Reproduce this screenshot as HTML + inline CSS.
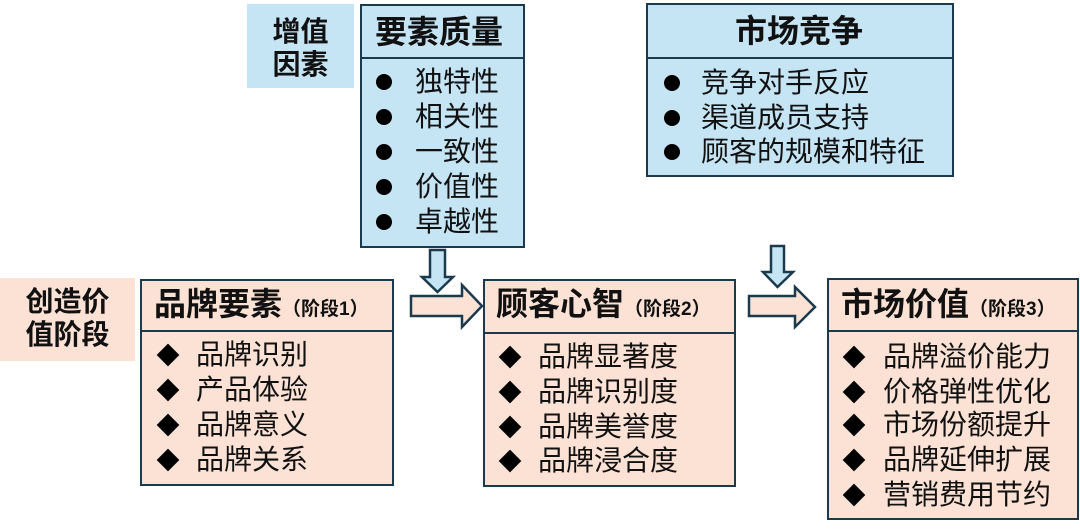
<!DOCTYPE html>
<html><head><meta charset="utf-8">
<style>
html,body{margin:0;padding:0;}
body{width:1080px;height:529px;position:relative;background:#fff;overflow:hidden;font-family:"Liberation Sans","Noto Sans CJK SC",sans-serif;color:#111;}
.abs{position:absolute;}
.box{position:absolute;box-sizing:border-box;border:2px solid #1c3a4e;}
.blue{background:#c5e4f4;}
.peach{background:#fbe2d5;}
.div{position:absolute;left:0;right:0;height:0;border-top:2px solid #1c3a4e;}
.t{position:absolute;white-space:nowrap;font-weight:bold;font-size:32px;line-height:40px;}
.t small{font-size:19px;font-weight:bold;}
.it{position:absolute;white-space:nowrap;font-size:28px;line-height:34px;}
.dot{position:absolute;width:16px;height:16px;border-radius:50%;background:#000;}
.dia{position:absolute;width:16px;height:16px;background:#000;transform:rotate(45deg);}
.lab{position:absolute;font-weight:bold;font-size:28px;line-height:33px;text-align:center;}
</style></head><body>

<!-- labels -->
<div class="abs blue" style="left:247px;top:4px;width:107px;height:84px;"></div>
<div class="lab" style="left:247px;top:15px;width:107px;">增值<br>因素</div>
<div class="abs peach" style="left:0;top:278px;width:135px;height:83px;"></div>
<div class="lab" style="left:0;top:285px;width:135px;">创造价<br>值阶段</div>

<!-- top box 1 -->
<div class="box blue" style="left:360px;top:4px;width:165px;height:244px;">
  <div class="div" style="top:51px;"></div>
</div>
<div class="t" style="left:375px;top:12px;">要素质量</div>
<div class="dot" style="left:376px;top:74px;"></div>
<div class="dot" style="left:376px;top:109px;"></div>
<div class="dot" style="left:376px;top:144px;"></div>
<div class="dot" style="left:376px;top:179px;"></div>
<div class="dot" style="left:376px;top:214px;"></div>
<div class="it" style="left:415px;top:65px;">独特性</div>
<div class="it" style="left:415px;top:100px;">相关性</div>
<div class="it" style="left:415px;top:135px;">一致性</div>
<div class="it" style="left:415px;top:170px;">价值性</div>
<div class="it" style="left:415px;top:205px;">卓越性</div>

<!-- top box 2 -->
<div class="box blue" style="left:646px;top:3px;width:308px;height:174px;">
  <div class="div" style="top:52px;"></div>
</div>
<div class="t" style="left:735px;top:11px;">市场竞争</div>
<div class="dot" style="left:664px;top:75px;"></div>
<div class="dot" style="left:664px;top:110px;"></div>
<div class="dot" style="left:664px;top:144px;"></div>
<div class="it" style="left:701px;top:66px;">竞争对手反应</div>
<div class="it" style="left:701px;top:101px;">渠道成员支持</div>
<div class="it" style="left:701px;top:135px;">顾客的规模和特征</div>

<!-- bottom box 1 -->
<div class="box peach" style="left:140px;top:279px;width:254px;height:207px;">
  <div class="div" style="top:49px;"></div>
</div>
<div class="t" style="left:154px;top:284px;">品牌要素<small>（阶段1）</small></div>
<div class="dia" style="left:160px;top:347px;"></div>
<div class="dia" style="left:160px;top:382px;"></div>
<div class="dia" style="left:160px;top:417px;"></div>
<div class="dia" style="left:160px;top:452px;"></div>
<div class="it" style="left:196px;top:338px;">品牌识别</div>
<div class="it" style="left:196px;top:373px;">产品体验</div>
<div class="it" style="left:196px;top:408px;">品牌意义</div>
<div class="it" style="left:196px;top:443px;">品牌关系</div>

<!-- bottom box 2 -->
<div class="box peach" style="left:483px;top:279px;width:253px;height:208px;">
  <div class="div" style="top:51px;"></div>
</div>
<div class="t" style="left:496px;top:284px;">顾客心智<small>（阶段2）</small></div>
<div class="dia" style="left:502px;top:349px;"></div>
<div class="dia" style="left:502px;top:384px;"></div>
<div class="dia" style="left:502px;top:419px;"></div>
<div class="dia" style="left:502px;top:453px;"></div>
<div class="it" style="left:538px;top:340px;">品牌显著度</div>
<div class="it" style="left:538px;top:375px;">品牌识别度</div>
<div class="it" style="left:538px;top:410px;">品牌美誉度</div>
<div class="it" style="left:538px;top:444px;">品牌浸合度</div>

<!-- bottom box 3 -->
<div class="box peach" style="left:827px;top:278px;width:252px;height:242px;">
  <div class="div" style="top:50px;"></div>
</div>
<div class="t" style="left:841px;top:284px;">市场价值<small>（阶段3）</small></div>
<div class="dia" style="left:846px;top:349px;"></div>
<div class="dia" style="left:846px;top:384px;"></div>
<div class="dia" style="left:846px;top:417px;"></div>
<div class="dia" style="left:846px;top:452px;"></div>
<div class="dia" style="left:846px;top:487px;"></div>
<div class="it" style="left:883px;top:340px;">品牌溢价能力</div>
<div class="it" style="left:883px;top:375px;">价格弹性优化</div>
<div class="it" style="left:883px;top:408px;">市场份额提升</div>
<div class="it" style="left:883px;top:443px;">品牌延伸扩展</div>
<div class="it" style="left:883px;top:478px;">营销费用节约</div>

<!-- arrows -->
<svg class="abs" style="left:0;top:0;" width="1080" height="529" viewBox="0 0 1080 529">
  <g stroke="#1c3a4e" stroke-width="2.5" stroke-linejoin="miter">
    <polygon points="430,250 445,250 445,277 453,277 437.5,292 422,277 430,277" fill="#c5e4f4"/>
    <polygon points="411,296 462,296 462,285 482,306 462,327 462,316 411,316" fill="#fbe2d5"/>
    <polygon points="771,246 784,246 784,272 793,272 777.5,287 763,272 771,272" fill="#c5e4f4"/>
    <polygon points="749,296 795,296 795,287 815,307 795,327 795,316 749,316" fill="#fbe2d5"/>
  </g>
</svg>
</body></html>
